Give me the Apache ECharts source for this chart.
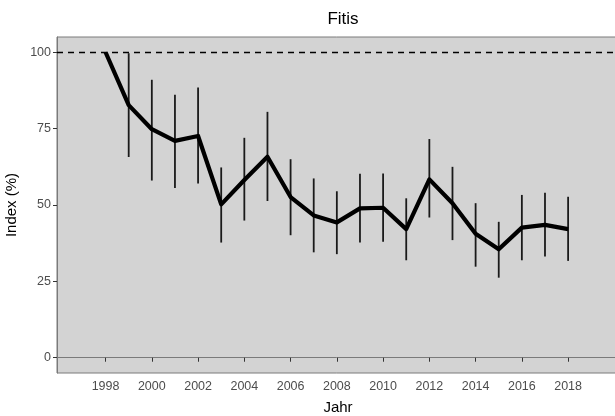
<!DOCTYPE html>
<html>
<head>
<meta charset="utf-8">
<script src="https://cdn.jsdelivr.net/npm/echarts@6/dist/echarts.min.js"></script>
<style>
html,body{margin:0;padding:0;background:#fff;}
#chart{width:615px;height:416px;}
</style>
</head>
<body>
<div id="chart"></div>
<script>
var years = [1998,1999,2000,2001,2002,2003,2004,2005,2006,2007,2008,2009,2010,2011,2012,2013,2014,2015,2016,2017,2018];
var indexValues = [100,82.7,74.8,71.0,72.6,50.2,58.2,65.8,52.6,46.6,44.3,48.9,49.1,42.1,58.4,50.6,40.6,35.5,42.6,43.5,42.1];
var lowerValues = [null,66.0,58.3,55.9,57.3,38.0,45.2,51.6,40.4,34.8,34.2,38.0,38.3,32.2,46.2,38.8,30.1,26.5,32.2,33.4,32.0];
var upperValues = [null,99.4,90.7,85.8,88.2,62.0,71.7,80.2,64.7,58.4,54.2,59.9,60.0,51.9,71.3,62.2,50.3,44.2,53.0,53.7,52.4];
var xTicks = [1998,2000,2002,2004,2006,2008,2010,2012,2014,2016,2018];
var yTicks = [0,25,50,75,100];
var referenceLevel = 100;

var lineData = years.map(function(y,i){return [y, indexValues[i]];});
var errData = [];
years.forEach(function(y,i){
  if (lowerValues[i] != null) errData.push([y, lowerValues[i], upperValues[i]]);
});

var chart = echarts.init(document.getElementById('chart'), null, {renderer:'canvas'});
var font = '"Liberation Sans", Arial, sans-serif';
chart.setOption({
  animation:false,
  title:{text:'Fitis', left:338, textAlign:'center', top:6,
    textStyle:{fontFamily:font, fontSize:17, fontWeight:'normal', color:'#000'}},
  grid:{left:57, top:37, width:562, height:336, show:true,
    backgroundColor:'#d3d3d3', borderColor:'#7a7a7a', borderWidth:1,
    containLabel:false, outerBoundsMode:'none'},
  xAxis:{type:'value', min:1995.9, max:2020.2,
    name:'Jahr', nameLocation:'middle', nameGap:27,
    nameTextStyle:{fontFamily:font, fontSize:15, color:'#000'},
    axisLine:{show:true, lineStyle:{color:'#7a7a7a', width:1}},
    axisTick:{show:true, length:4, customValues:xTicks, lineStyle:{color:'#333'}},
    axisLabel:{customValues:xTicks, fontFamily:font, fontSize:12.5, color:'#4d4d4d', margin:7,
      formatter:function(v){return String(v);}},
    splitLine:{show:false}},
  yAxis:{type:'value', min:-5, max:105,
    name:'Index (%)', nameLocation:'middle', nameGap:34, nameRotate:90,
    nameTextStyle:{fontFamily:font, fontSize:15, color:'#000'},
    axisLine:{show:true, lineStyle:{color:'#7a7a7a', width:1}},
    axisTick:{show:true, length:4, customValues:yTicks, lineStyle:{color:'#333'}},
    axisLabel:{customValues:yTicks, fontFamily:font, fontSize:12.5, color:'#4d4d4d', margin:6,
      formatter:function(v){return String(v);}},
    splitLine:{show:false}},
  series:[
    {type:'custom', data:errData, z:2,
      encode:{x:0, y:[1,2]},
      renderItem:function(params, api){
        var lo = api.coord([api.value(0), api.value(1)]);
        var hi = api.coord([api.value(0), api.value(2)]);
        return {type:'line', shape:{x1:lo[0], y1:lo[1], x2:hi[0], y2:hi[1]},
          style:{stroke:'#1a1a1a', lineWidth:1.8, lineCap:'square'}};
      }},
    {type:'line', data:lineData, z:3, symbol:'none',
      lineStyle:{color:'#000', width:4.2, join:'round'},
      markLine:{silent:true, symbol:'none', label:{show:false},
        lineStyle:{color:'#000', width:1.4, type:[6,5]},
        data:[{yAxis:referenceLevel}]}}
  ]
});
</script>
</body>
</html>
